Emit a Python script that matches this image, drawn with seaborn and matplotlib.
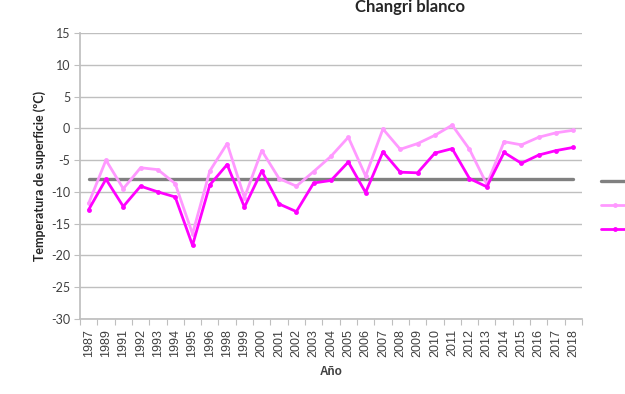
import matplotlib
matplotlib.use("Agg")
import matplotlib.pyplot as plt
import seaborn as sns
import pandas as pd
from matplotlib.lines import Line2D
from matplotlib.ticker import FixedLocator, MultipleLocator

# Surface temperature series, Changri blanco
years = ["1987", "1989", "1991", "1992", "1993", "1994", "1995", "1996",
         "1998", "1999", "2000", "2001", "2002", "2003", "2004", "2005",
         "2006", "2007", "2008", "2009", "2010", "2011", "2012", "2013",
         "2014", "2015", "2016", "2017", "2018"]
temp_max = [-11.8, -5.0, -9.5, -6.2, -6.5, -8.7, -16.6, -6.7,
            -2.4, -10.9, -3.5, -7.9, -9.1, -6.8, -4.4, -1.4,
            -7.5, -0.1, -3.3, -2.4, -1.1, 0.5, -3.3, -8.8,
            -2.1, -2.6, -1.4, -0.7, -0.3]
temp_min = [-12.8, -8.0, -12.3, -9.1, -10.0, -10.8, -18.4, -8.9,
            -5.7, -12.4, -6.7, -11.9, -13.1, -8.6, -8.2, -5.3,
            -10.1, -3.7, -6.9, -7.0, -3.9, -3.2, -7.9, -9.2,
            -3.8, -5.5, -4.2, -3.5, -3.0]
reference = [-8.0] * len(years)

df = pd.DataFrame({"year": years, "ref": reference,
                   "tmax": temp_max, "tmin": temp_min})

sns.set_theme(style="white")
plt.rcParams["font.family"] = ["Liberation Sans", "DejaVu Sans"]

fig = plt.figure(figsize=(6.25, 3.94), dpi=100)
ax = fig.add_axes([80 / 625, 1 - 319 / 394, 502 / 625, 286 / 394])

c_ref = "#808080"
c_max = "#FF99FF"
c_min = "#FF00FF"

sns.lineplot(data=df, x="year", y="ref", ax=ax, color=c_ref, linewidth=2.4,
             sort=False, zorder=3)
sns.lineplot(data=df, x="year", y="tmax", ax=ax, color=c_max, linewidth=2.0,
             marker="o", markersize=3.5, markeredgewidth=0, sort=False, zorder=4)
sns.lineplot(data=df, x="year", y="tmin", ax=ax, color=c_min, linewidth=2.0,
             marker="o", markersize=3.5, markeredgewidth=0, sort=False, zorder=5)

n = len(years)
ax.set_xlim(-0.5, n - 0.5)
ax.set_ylim(-30, 15)
ax.yaxis.set_major_locator(MultipleLocator(5))
ax.grid(axis="y", color="#BFBFBF", linewidth=1.0)
ax.grid(axis="x", visible=False)

# category labels centred, tick marks between categories
ax.set_xticks(range(n))
ax.set_xticklabels(years, rotation=90, fontsize=9, color="#404040")
ax.xaxis.set_minor_locator(FixedLocator([i - 0.5 for i in range(n + 1)]))
ax.tick_params(axis="x", which="major", length=0, pad=7)
ax.tick_params(axis="x", which="minor", length=4, width=0.8, color="#BFBFBF",
               bottom=True)
ax.tick_params(axis="y", length=4, width=0.8, color="#BFBFBF", left=True,
               labelsize=9, labelcolor="#404040", pad=3)

for side in ("top", "right"):
    ax.spines[side].set_visible(False)
ax.spines["left"].set_color("#BFBFBF")
ax.spines["bottom"].set_color("#BFBFBF")

ax.set_xlabel("Año", fontsize=8.5, fontweight="bold", color="#404040", labelpad=7)
ax.set_ylabel("Temperatura de superficie (ºC)", fontsize=9, fontweight="bold",
              color="#262626", family=["Lato", "DejaVu Sans"], labelpad=4)
ax.set_yticklabels([f"{int(v)}" for v in ax.get_yticks()],
                   family=["Lato", "DejaVu Sans"])

fig.text(410 / 625, 1 - 7 / 394, "Changri blanco", ha="center", va="center",
         fontsize=12, fontweight="bold", color="#262626",
         family=["Lato", "DejaVu Sans"])

handles = [Line2D([], [], color=c_ref, linewidth=2.4),
           Line2D([], [], color=c_max, linewidth=2.0, marker="o",
                  markersize=3.5, markeredgewidth=0),
           Line2D([], [], color=c_min, linewidth=2.0, marker="o",
                  markersize=3.5, markeredgewidth=0)]
fig.legend(handles, ["", "", ""], loc="upper left",
           bbox_to_anchor=(601 / 625, 1 - 177 / 394), frameon=False,
           handlelength=2.5, handletextpad=0.3, labelspacing=1.25,
           borderpad=0, borderaxespad=0, fontsize=8)

fig.savefig("out.png", dpi=100)
